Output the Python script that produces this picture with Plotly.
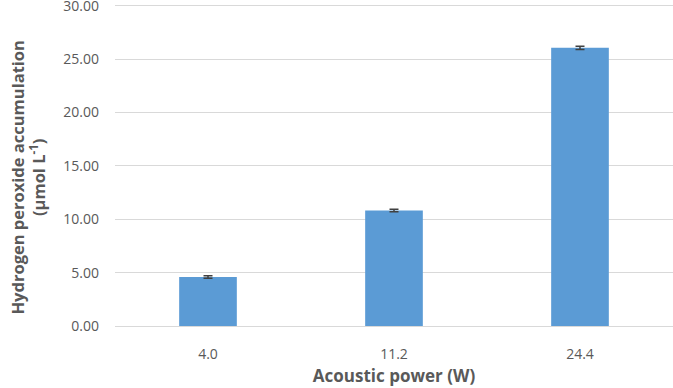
import plotly.graph_objects as go

categories = ["4.0", "11.2", "24.4"]
values = [4.58, 10.82, 26.05]
errors = [0.12, 0.12, 0.15]
y_ticks = [0, 5, 10, 15, 20, 25, 30]

fig = go.Figure()
fig.add_trace(go.Bar(
    x=categories, y=values,
    marker=dict(color="#5b9bd5", line=dict(width=0)),
    width=0.31,
    error_y=dict(type="data", array=errors, visible=True, color="#404040", thickness=1.5, width=4.5),
))
fig.update_layout(
    width=673, height=388,
    margin=dict(l=115, r=0, t=4, b=62),
    plot_bgcolor="white", paper_bgcolor="white",
    font=dict(family="Open Sans, Liberation Sans, sans-serif", color="#595959"),
    showlegend=False,
)
fig.update_yaxes(
    range=[0, 30.15], tickvals=y_ticks, ticktext=[f"{v:.2f}" for v in y_ticks],
    showgrid=True, gridcolor="#d9d9d9", gridwidth=1, zeroline=False,
    tickfont=dict(size=14, color="#595959"), ticks="", ticklen=0,
    ticklabelstandoff=15, ticklabeloverflow="allow", automargin=False,
)
fig.add_annotation(
    text="<b>Hydrogen peroxide accumulation<br>(µmol L<sup>-1</sup>)</b>",
    xref="paper", yref="paper", x=(27.5 - 115) / 558, y=(326 - 178) / 322,
    xanchor="center", yanchor="middle", textangle=-90, showarrow=False,
    font=dict(size=16.5, color="#595959"),
)
fig.update_xaxes(
    showline=True, linecolor="#d9d9d9", linewidth=1,
    tickfont=dict(size=14, color="#595959"), ticks="",
    ticklabelstandoff=15, automargin=False,
    title=dict(text="<b>Acoustic power (W)</b>", font=dict(size=17, color="#595959"), standoff=8),
)
fig.write_html("out.html", post_script="document.body.style.margin='0';",
               config={"displayModeBar": False})
